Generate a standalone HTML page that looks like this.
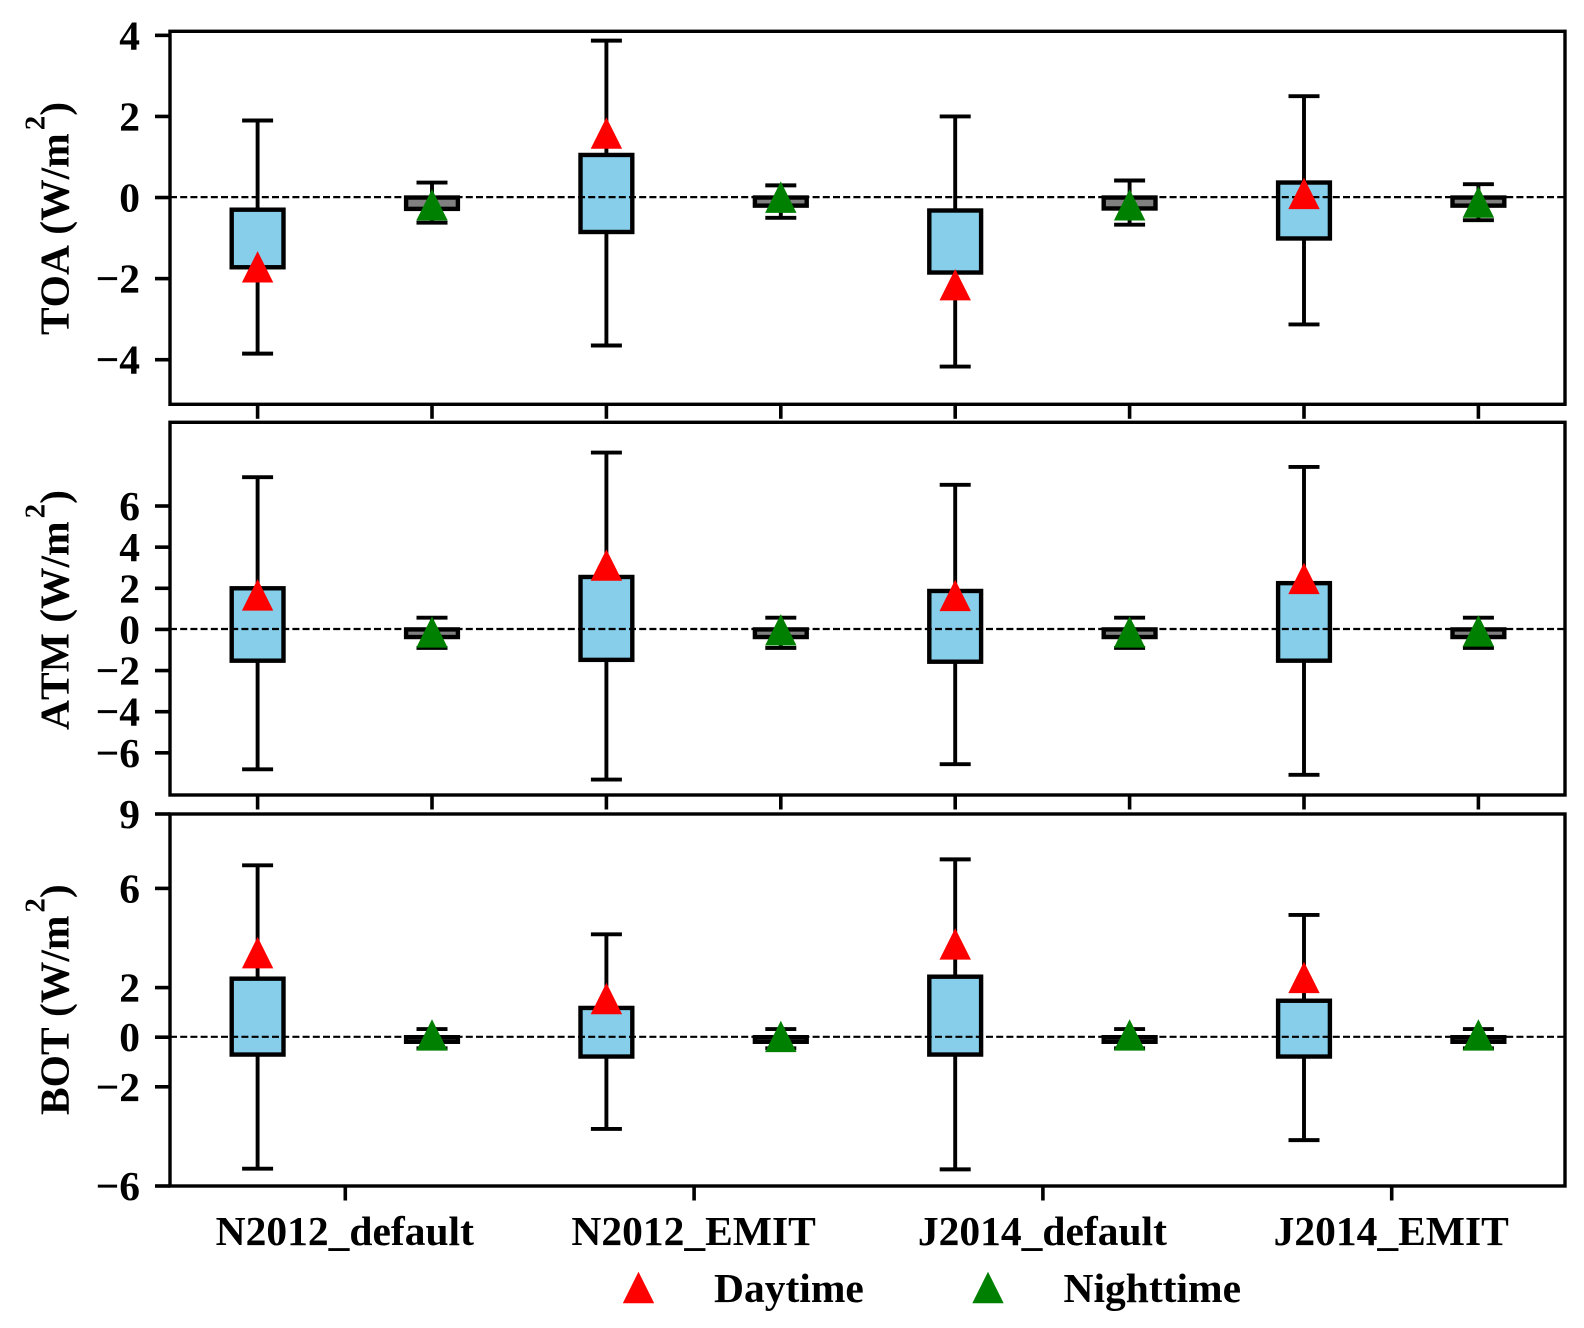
<!DOCTYPE html>
<html>
<head>
<meta charset="utf-8">
<title>TOA, ATM and BOT box plots</title>
<style>
html,body{margin:0;padding:0;background:#fff;}
svg{display:block;}
text{font-family:"Liberation Serif",serif;font-weight:bold;fill:#000;}
</style>
</head>
<body>
<svg id="chart" width="1584" height="1328" viewBox="0 0 1584 1328" xmlns="http://www.w3.org/2000/svg"></svg>
<script>
const categories = ["N2012_default", "N2012_EMIT", "J2014_default", "J2014_EMIT"];
const legendLabels = ["Daytime", "Nighttime"];
const panelNames = ["TOA", "ATM", "BOT"];

const toaTicks = [-4, -2, 0, 2, 4];
const atmTicks = [-6, -4, -2, 0, 2, 4, 6];
const botTicks = [-6, -2, 0, 2, 6, 9];

// Boxes alternate daytime, nighttime across the four configurations
const toaHigh = [1.9, 0.37, 3.87, 0.3, 2.0, 0.42, 2.5, 0.33];
const toaLow = [-3.85, -0.62, -3.65, -0.5, -4.17, -0.67, -3.13, -0.56];
const toaBoxTop = [-0.3, 0.0, 1.05, 0.0, -0.32, 0.0, 0.37, 0.0];
const toaBoxBottom = [-1.72, -0.28, -0.85, -0.2, -1.85, -0.27, -1.01, -0.2];
const toaMarker = [-1.71, -0.18, 1.59, 0.01, -2.15, -0.18, 0.1, -0.11];

const atmHigh = [7.4, 0.57, 8.6, 0.57, 7.03, 0.57, 7.9, 0.57];
const atmLow = [-6.8, -0.9, -7.3, -0.9, -6.55, -0.9, -7.07, -0.9];
const atmBoxTop = [2.0, 0.0, 2.55, 0.0, 1.87, 0.0, 2.25, 0.0];
const atmBoxBottom = [-1.52, -0.37, -1.48, -0.37, -1.57, -0.37, -1.52, -0.37];
const atmMarker = [1.68, -0.12, 3.13, -0.02, 1.65, -0.12, 2.48, -0.07];

const botHigh = [6.93, 0.33, 4.15, 0.33, 7.17, 0.33, 4.93, 0.33];
const botLow = [-5.3, -0.45, -3.7, -0.45, -5.33, -0.45, -4.15, -0.45];
const botBoxTop = [2.36, 0.0, 1.18, 0.0, 2.44, 0.0, 1.47, 0.0];
const botBoxBottom = [-0.7, -0.185, -0.78, -0.185, -0.7, -0.185, -0.78, -0.185];
const botMarker = [3.41, 0.09, 1.56, 0.03, 3.76, 0.09, 2.41, 0.09];

const NS = "http://www.w3.org/2000/svg";
const svg = document.getElementById("chart");
const plotLeft = 170, plotRight = 1565;

function shape(tag, attrs, parent) {
  const el = document.createElementNS(NS, tag);
  for (const k in attrs) el.setAttribute(k, attrs[k]);
  (parent || svg).appendChild(el);
  return el;
}
function xScale(i) { return 257.6 + 174.4 * i; }
function makeYScale(top, bottom, vMax, vMin) {
  return function (v) { return top + (vMax - v) / (vMax - vMin) * (bottom - top); };
}
function tickText(v) { return v < 0 ? "\u2212" + Math.abs(v) : String(v); }
function triangle(x, c) {
  return (x - 15.7) + "," + (c + 15.7) + " " + (x + 15.7) + "," + (c + 15.7) + " " + x + "," + (c - 15.7);
}

function drawPanel(cfg) {
  const slug = cfg.name.toLowerCase();
  const y = makeYScale(cfg.top, cfg.bottom, cfg.vMax, cfg.vMin);
  const g = shape("g", {});
  
  

  // whiskers and caps, then boxes
  cfg.high.forEach(function (_, i) {
    const x = xScale(i);
    const night = i % 2 === 1;
    const item = shape("g", {}, g);
    
    
    const whisker = shape("line", {x1: x, x2: x, y1: y(cfg.high[i]), y2: y(cfg.low[i]), stroke: "#000", "stroke-width": 3.9}, item);
    
    
    [cfg.high[i], cfg.low[i]].forEach(function (v) {
      const cap = shape("line", {x1: x - 15.5, x2: x + 15.5, y1: y(v), y2: y(v), stroke: "#000", "stroke-width": 3.9}, item);
      
      
    });
    const box = shape("rect", {x: x - 25.9, width: 51.8, y: y(cfg.boxTop[i]), height: y(cfg.boxBottom[i]) - y(cfg.boxTop[i]),
      fill: night ? "#808080" : "#87ceeb", stroke: "#000", "stroke-width": 4.4}, item);
    
    
  });

  // zero reference line
  const zero = shape("line", {x1: plotLeft, x2: plotRight, y1: y(0) - 0.4, y2: y(0) - 0.4, stroke: "#000", "stroke-width": 2.2, "stroke-dasharray": "7 3.2"}, g);
  
  

  // mean markers
  cfg.marker.forEach(function (v, i) {
    const x = xScale(i), c = y(v), night = i % 2 === 1;
    const m = shape("polygon", {points: triangle(x, c), fill: night ? "#008000" : "#ff0000"}, g);
    
    
  });

  // frame
  const frame = shape("rect", {x: plotLeft, y: cfg.top, width: plotRight - plotLeft, height: cfg.bottom - cfg.top, fill: "none", stroke: "#000", "stroke-width": 3.4}, g);
  
  

  // y ticks
  cfg.ticks.forEach(function (v) {
    const t = shape("line", {x1: plotLeft - 15, x2: plotLeft, y1: y(v), y2: y(v), stroke: "#000", "stroke-width": 3.6}, g);
    
    
    const l = shape("text", {x: 140, y: y(v) + 14, "text-anchor": "end", "font-size": 41.5}, g);
    l.textContent = tickText(v);
    
    
  });

  // y title
  const title = shape("text", {x: 68.5, y: cfg.titleY, transform: "rotate(-90 68.5 " + cfg.titleY + ")", "font-size": 41.5, style: "font-kerning:none"}, g);
  
  
  const t1 = shape("tspan", {}, title); t1.textContent = cfg.name + " (W/m";
  const t2 = shape("tspan", {dx: 3, dy: -24, "font-size": 29}, title); t2.textContent = "2";
  const t3 = shape("tspan", {dx: 0, dy: 24}, title); t3.textContent = ")";

  // x ticks
  if (!cfg.last) {
    cfg.high.forEach(function (_, i) {
      const t = shape("line", {x1: xScale(i), x2: xScale(i), y1: cfg.bottom, y2: cfg.bottom + 14.5, stroke: "#000", "stroke-width": 3.6}, g);
      
      
    });
  } else {
    categories.forEach(function (name, c) {
      const x = xScale(c * 2 + 0.5);
      const t = shape("line", {x1: x + 0.5, x2: x + 0.5, y1: cfg.bottom, y2: cfg.bottom + 14.5, stroke: "#000", "stroke-width": 3.6}, g);
      
      
      const l = shape("text", {x: x, y: 1245, "text-anchor": "middle", "font-size": 41.5}, g);
      l.textContent = name;
      
      
    });
  }
}

drawPanel({name: panelNames[0], top: 31.3, bottom: 404.3, vMax: 4.1, vMin: -5.1, ticks: toaTicks, titleY: 335,
  high: toaHigh, low: toaLow, boxTop: toaBoxTop, boxBottom: toaBoxBottom, marker: toaMarker});
drawPanel({name: panelNames[1], top: 422.3, bottom: 795, vMax: 10.07, vMin: -8.05, ticks: atmTicks, titleY: 730,
  high: atmHigh, low: atmLow, boxTop: atmBoxTop, boxBottom: atmBoxBottom, marker: atmMarker});
drawPanel({name: panelNames[2], top: 814, bottom: 1186, vMax: 9, vMin: -6, ticks: botTicks, titleY: 1115, last: true,
  high: botHigh, low: botLow, boxTop: botBoxTop, boxBottom: botBoxBottom, marker: botMarker});

// legend
const legend = shape("g", {});


legendLabels.forEach(function (label, i) {
  const mx = 638.5 + i * 349.5, my = 1287.5;
  const m = shape("polygon", {points: triangle(mx, my), fill: i === 0 ? "#ff0000" : "#008000"}, legend);
  
  
  const t = shape("text", {x: 714 + i * 349.5, y: 1302, "font-size": 41.5}, legend);
  t.textContent = label;
  
  
});
</script>
</body>
</html>
